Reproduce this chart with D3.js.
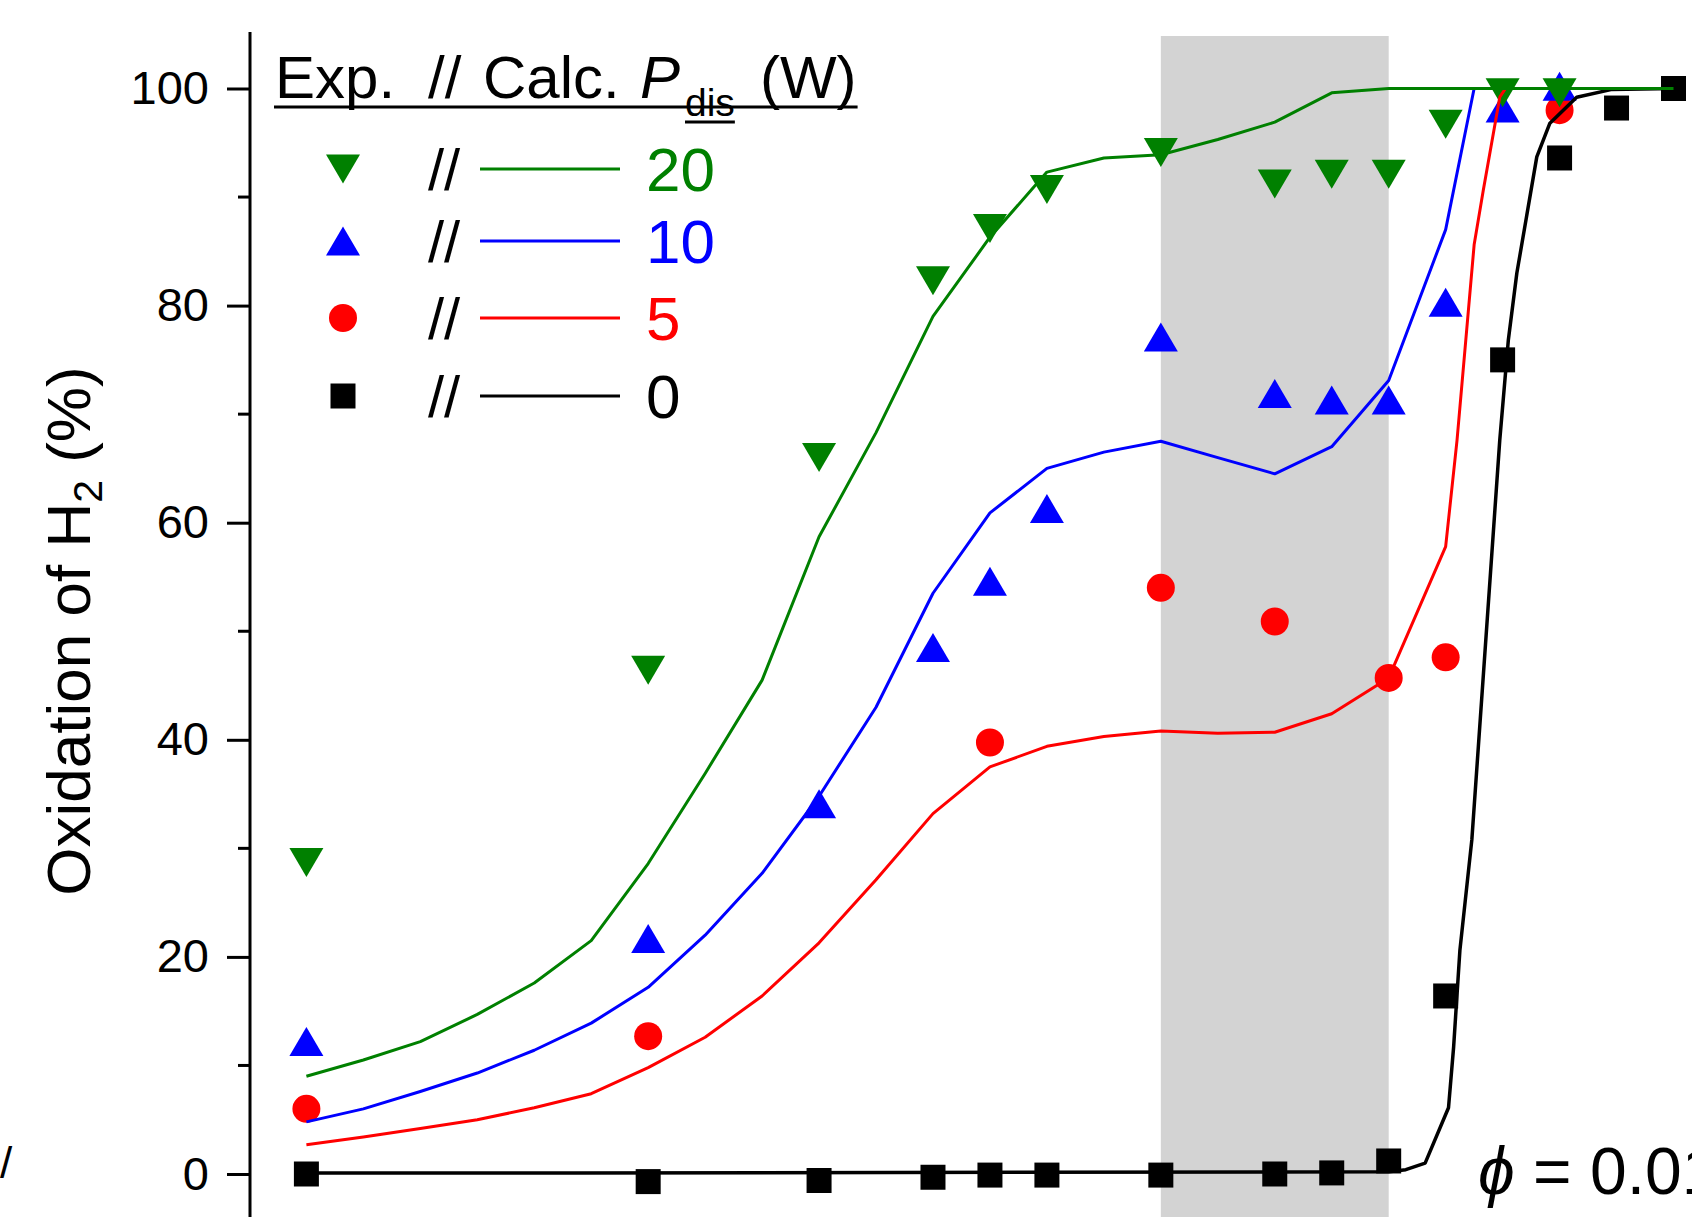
<!DOCTYPE html>
<html>
<head>
<meta charset="utf-8">
<script src="https://cdn.jsdelivr.net/npm/d3@7"></script>
<style>
  html, body { margin: 0; padding: 0; background: #ffffff; }
  svg { display: block; font-family: "Liberation Sans", Arial, sans-serif; }
</style>
</head>
<body>
<svg id="chart" width="1692" height="1217"></svg>
<script>
// ---------------- data ----------------
// x positions are temperature-like steps (axis itself is not shown in the crop)
const expT = [50, 200, 275, 325, 350, 375, 425, 475, 500, 525, 550, 575, 600, 625, 650];

// Experimental points
const exp20T = [50, 200, 275, 325, 350, 375, 425, 475, 500, 525, 550, 575, 600];
const exp20  = [28.7, 46.4, 66.0, 82.3, 87.1, 90.7, 94.1, 91.2, 92.1, 92.1, 96.7, 99.6, 99.6];
const exp10T = [50, 200, 275, 325, 350, 375, 425, 475, 500, 525, 550, 575, 600];
const exp10  = [12.2, 21.7, 34.1, 48.5, 54.6, 61.3, 77.1, 71.9, 71.3, 71.3, 80.3, 98.2, 100.2];
const exp5T  = [50, 200, 350, 425, 475, 525, 550, 600];
const exp5   = [6.0, 12.7, 39.75, 54.0, 50.9, 45.7, 47.6, 98.0];
const exp0T  = expT;
const exp0   = [0, -0.7, -0.6, -0.3, -0.1, -0.1, -0.1, 0, 0.1, 1.2, 16.4, 75.0, 93.6, 98.2, 100];

// Calculated curves
const calc20T = [50, 75, 100, 125, 150, 175, 200, 225, 250, 275, 300, 325, 350, 375, 400, 425, 450, 475, 500, 525, 650];
const calc20  = [9.0, 10.5, 12.2, 14.7, 17.6, 21.5, 28.6, 36.9, 45.5, 58.7, 68.3, 79.0, 86.3, 92.3, 93.6, 93.9, 95.3, 96.9, 99.6, 100, 100];
const calc10T = [50, 75, 100, 125, 150, 175, 200, 225, 250, 275, 300, 325, 350, 375, 400, 425, 450, 475, 500, 525, 550, 562.5];
const calc10  = [4.8, 6.0, 7.6, 9.3, 11.4, 13.9, 17.2, 22.0, 27.7, 34.8, 43.0, 53.5, 60.9, 65.0, 66.5, 67.5, 66.0, 64.5, 67.0, 73.1, 87.0, 100];
const calc5T  = [50, 75, 100, 125, 150, 175, 200, 225, 250, 275, 300, 325, 350, 375, 400, 425, 450, 475, 500, 525, 550, 555, 562.5, 566.5, 573.75, 576.25];
const calc5   = [2.7, 3.4, 4.2, 5.0, 6.1, 7.4, 9.8, 12.6, 16.4, 21.3, 27.1, 33.2, 37.5, 39.4, 40.3, 40.8, 40.6, 40.7, 42.4, 45.7, 57.8, 67.6, 85.6, 90.6, 99.2, 100];
const calc0T  = [50, 167.5, 525, 532.5, 541, 551.25, 553.5, 556.25, 561.5, 573.75, 577.5, 581.25, 590, 595.75, 607.5, 622.5, 650];
const calc0   = [0.1, 0.1, 0.2, 0.4, 1.0, 6.1, 11.7, 20.6, 30.8, 67.6, 76.8, 83.0, 93.7, 96.8, 99.2, 99.9, 100];

const bandT = [425, 525];           // shaded region
const yMajor = [0, 20, 40, 60, 80, 100];
const yMinor = [10, 30, 50, 70, 90];
const powers = ["20", "10", "5", "0"];
const colors = {"20": "#008000", "10": "#0000ff", "5": "#ff0000", "0": "#000000"};
const shapes = {"20": "triDown", "10": "triUp", "5": "circle", "0": "square"};

// ---------------- scales ----------------
const x = d3.scaleLinear().domain([50, 650]).range([306.4, 1673.5]);
const y = d3.scaleLinear().domain([0, 100]).range([1174, 88.5]);

const svg = d3.select("#chart");
svg.append("rect").attr("width", 1692).attr("height", 1217).attr("fill", "#ffffff");

// shaded band
svg.append("rect")
  .attr("x", x(bandT[0])).attr("y", 36)
  .attr("width", x(bandT[1]) - x(bandT[0])).attr("height", 1217 - 36)
  .attr("fill", "#d3d3d3");

// ---------------- axis ----------------
const axisX = 250;
const gAxis = svg.append("g").attr("transform", `translate(${axisX},0)`);
gAxis.call(d3.axisLeft(y).tickValues(yMajor).tickSize(23).tickPadding(18).tickFormat(d3.format("d")));
gAxis.select(".domain").remove();
gAxis.selectAll(".tick line").attr("stroke", "#000").attr("stroke-width", 3);
gAxis.selectAll(".tick text").attr("font-size", 47).attr("fill", "#000")
  .attr("font-family", "'Liberation Sans', Arial, sans-serif");
gAxis.selectAll(".minor").data(yMinor).enter().append("line")
  .attr("x1", -12).attr("x2", 0)
  .attr("y1", d => y(d)).attr("y2", d => y(d))
  .attr("stroke", "#000").attr("stroke-width", 3);
gAxis.append("line").attr("x1", 0).attr("x2", 0).attr("y1", 32).attr("y2", 1217)
  .attr("stroke", "#000").attr("stroke-width", 3);

// y label
const yl = svg.append("text")
  .attr("transform", "translate(90,631) rotate(-90)")
  .attr("text-anchor", "middle").attr("font-size", 62).attr("fill", "#000");
yl.append("tspan").text("Oxidation of H");
yl.append("tspan").attr("font-size", 41).attr("dy", 12).text("2");
yl.append("tspan").attr("dy", -12).text(" (%)");

// ---------------- markers ----------------
function symbolPath(shape, cx, cy) {
  const w = 34, h = 29, s = 25, r = 14;
  if (shape === "triUp") return `M${cx - w/2},${cy + h/2}L${cx + w/2},${cy + h/2}L${cx},${cy - h/2}Z`;
  if (shape === "triDown") return `M${cx - w/2},${cy - h/2}L${cx + w/2},${cy - h/2}L${cx},${cy + h/2}Z`;
  if (shape === "square") return `M${cx - s/2},${cy - s/2}h${s}v${s}h${-s}Z`;
  return `M${cx - r},${cy}a${r},${r} 0 1,0 ${2*r},0a${r},${r} 0 1,0 ${-2*r},0Z`;
}

const expSets = [
  {p: "0",  T: exp0T,  v: exp0},
  {p: "5",  T: exp5T,  v: exp5},
  {p: "10", T: exp10T, v: exp10},
  {p: "20", T: exp20T, v: exp20}
];
const calcSets = [
  {p: "0",  T: calc0T,  v: calc0},
  {p: "5",  T: calc5T,  v: calc5},
  {p: "10", T: calc10T, v: calc10},
  {p: "20", T: calc20T, v: calc20}
];

const gMarks = svg.append("g");
expSets.forEach(s => {
  const pts = s.T.map((t, i) => [t, s.v[i]]);
  gMarks.selectAll(null).data(pts).enter().append("path")
    .attr("d", d => symbolPath(shapes[s.p], x(d[0]), y(d[1])))
    .attr("fill", colors[s.p]);
});

const line = d3.line().x(d => x(d[0])).y(d => y(d[1]));
const gLines = svg.append("g");
calcSets.forEach(s => {
  const pts = s.T.map((t, i) => [t, s.v[i]]);
  gLines.append("path").attr("d", line(pts))
    .attr("fill", "none").attr("stroke", colors[s.p])
    .attr("stroke-width", s.p === "0" ? 3.5 : 3).attr("stroke-linejoin", "round");
});

// ---------------- legend ----------------
const lg = svg.append("g");
const header = lg.append("text").attr("y", 98).attr("font-size", 60).attr("fill", "#000");
header.append("tspan").attr("x", 275).text("Exp.");
header.append("tspan").attr("x", 428).text("//");
header.append("tspan").attr("x", 483).text("Calc.");
header.append("tspan").attr("x", 640).attr("font-style", "italic").text("P");
const dis = header.append("tspan").attr("x", 685).attr("dy", 18).attr("font-size", 39).text("dis");
header.append("tspan").attr("x", 760).attr("dy", -18).text("(W)");
const hb = header.node().getBBox();
lg.append("line").attr("x1", 274).attr("x2", hb.x + hb.width + 1).attr("y1", 107).attr("y2", 107)
  .attr("stroke", "#000").attr("stroke-width", 2.8);
const disLen = dis.node().getComputedTextLength();
lg.append("line").attr("x1", 685).attr("x2", 685 + disLen).attr("y1", 122).attr("y2", 122)
  .attr("stroke", "#000").attr("stroke-width", 2.8);

const rowY = {"20": 169, "10": 241, "5": 318, "0": 396};
powers.forEach(p => {
  const cy = rowY[p];
  lg.append("path").attr("d", symbolPath(shapes[p], 343, cy)).attr("fill", colors[p]);
  lg.append("text").attr("x", 428).attr("y", cy + 21).attr("font-size", 58).attr("fill", "#000").text("//");
  lg.append("line").attr("x1", 480).attr("x2", 620).attr("y1", cy).attr("y2", cy)
    .attr("stroke", colors[p]).attr("stroke-width", 3);
  lg.append("text").attr("x", 646).attr("y", cy + 22).attr("font-size", 62)
    .attr("fill", colors[p]).text(p);
});

// ---------------- annotations ----------------
const phi = svg.append("text").attr("x", 1478).attr("y", 1194).attr("font-size", 66).attr("fill", "#000");
phi.append("tspan").attr("font-style", "italic").text("ϕ");
phi.append("tspan").text(" = 0.01");

// clipped glyph from neighbouring panel at left edge
svg.append("text").attr("x", 0).attr("y", 1178).attr("font-size", 44).attr("fill", "#000").text("/");
</script>
</body>
</html>
